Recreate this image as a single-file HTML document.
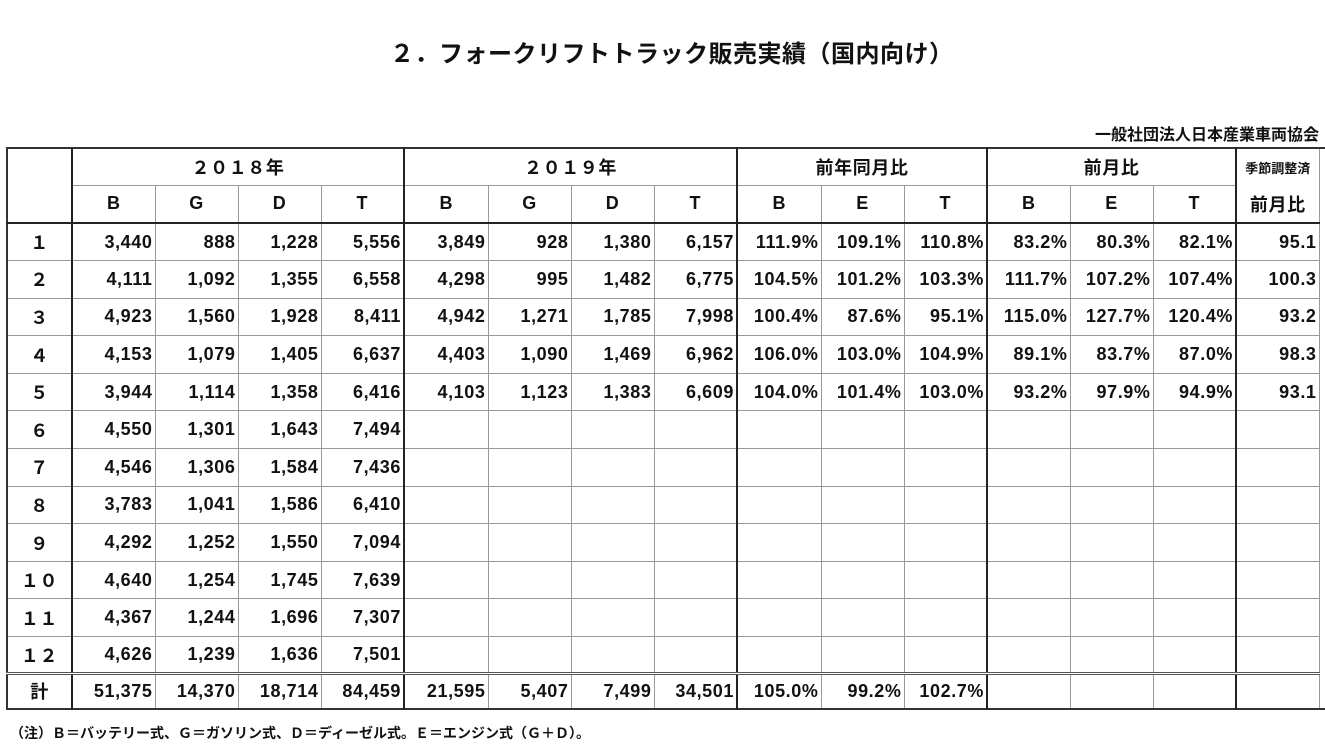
<!DOCTYPE html>
<html><head><meta charset="utf-8">
<style>
body{margin:0;width:1325px;height:750px;background:#fff;position:relative;overflow:hidden;font-family:"Liberation Sans","Noto Sans CJK JP",sans-serif;font-weight:bold;color:#111}
#title{position:absolute;left:390px;top:34px;font-size:24px;letter-spacing:0.5px;white-space:nowrap}
#org{position:absolute;right:6px;top:121px;font-size:16px;white-space:nowrap}
#note{position:absolute;left:10px;top:723px;font-size:14px;white-space:nowrap}
table{position:absolute;left:6px;top:147px;width:1314px;border-collapse:collapse;table-layout:fixed;font-size:18px;letter-spacing:0.6px}
td{border:1px solid #999;padding:0 2px 0 0;text-align:right;white-space:nowrap;overflow:hidden}
td.c{text-align:center;padding:0}
.L{border-left:2px solid #222}
.top td{border-top:2px solid #222}
.tot td{border-top:3px double #555}
.outer{border:2px solid #333}
</style></head><body>
<div id="title">２．フォークリフトトラック販売実績（国内向け）</div>
<div id="org">一般社団法人日本産業車両協会</div>
<table id="t" class="outer">
<colgroup><col style="width:65px"><col style="width:83px"><col style="width:83px"><col style="width:83px"><col style="width:83px"><col style="width:84px"><col style="width:83px"><col style="width:83px"><col style="width:83px"><col style="width:84px"><col style="width:83px"><col style="width:83px"><col style="width:83px"><col style="width:83px"><col style="width:83px"><col style="width:83px"><col style="width:84px"></colgroup>
<tr style="height:37px">
<td class="c" rowspan="2"></td>
<td class="c L" colspan="4">２０１８年</td>
<td class="c L" colspan="4">２０１９年</td>
<td class="c L" colspan="3">前年同月比</td>
<td class="c L" colspan="3">前月比</td>
<td class="c L" style="font-size:13px;letter-spacing:0;border-bottom:none">季節調整済</td>
</tr>
<tr style="height:38px">
<td class="c L">B</td><td class="c">G</td><td class="c">D</td><td class="c">T</td>
<td class="c L">B</td><td class="c">G</td><td class="c">D</td><td class="c">T</td>
<td class="c L">B</td><td class="c">E</td><td class="c">T</td>
<td class="c L">B</td><td class="c">E</td><td class="c">T</td>
<td class="c L" style="border-top:none">前月比</td>
</tr>
</table>
<div id="note">（注）Ｂ＝バッテリー式、Ｇ＝ガソリン式、Ｄ＝ディーゼル式。Ｅ＝エンジン式（Ｇ＋Ｄ）。</div>
<script>
const months=["１","２","３","４","５","６","７","８","９","１０","１１","１２"];
const b18=["3,440","4,111","4,923","4,153","3,944","4,550","4,546","3,783","4,292","4,640","4,367","4,626"];
const g18=["888","1,092","1,560","1,079","1,114","1,301","1,306","1,041","1,252","1,254","1,244","1,239"];
const d18=["1,228","1,355","1,928","1,405","1,358","1,643","1,584","1,586","1,550","1,745","1,696","1,636"];
const t18=["5,556","6,558","8,411","6,637","6,416","7,494","7,436","6,410","7,094","7,639","7,307","7,501"];
const b19=["3,849","4,298","4,942","4,403","4,103"];
const g19=["928","995","1,271","1,090","1,123"];
const d19=["1,380","1,482","1,785","1,469","1,383"];
const t19=["6,157","6,775","7,998","6,962","6,609"];
const yoyB=["111.9%","104.5%","100.4%","106.0%","104.0%"];
const yoyE=["109.1%","101.2%","87.6%","103.0%","101.4%"];
const yoyT=["110.8%","103.3%","95.1%","104.9%","103.0%"];
const momB=["83.2%","111.7%","115.0%","89.1%","93.2%"];
const momE=["80.3%","107.2%","127.7%","83.7%","97.9%"];
const momT=["82.1%","107.4%","120.4%","87.0%","94.9%"];
const sa=["95.1","100.3","93.2","98.3","93.1"];
const totals=["51,375","14,370","18,714","84,459","21,595","5,407","7,499","34,501","105.0%","99.2%","102.7%","","","",""];
const groupStart=[0,4,8,11,14];
const tbl=document.getElementById('t');
function addRow(label,vals,cls,h,name){
  const tr=document.createElement('tr');
  
  
  if(cls)tr.className=cls;
  tr.style.height=h+'px';
  const th=document.createElement('td');
  th.className='c';
  
  
  th.textContent=label;tr.appendChild(th);
  vals.forEach((v,i)=>{
    const td=document.createElement('td');
    if(groupStart.includes(i))td.className='L';
    
    
    td.textContent=v;tr.appendChild(td);
  });
  tbl.appendChild(tr);
}
const cols=[b18,g18,d18,t18,b19,g19,d19,t19,yoyB,yoyE,yoyT,momB,momE,momT,sa];
months.forEach((m,r)=>{
  addRow(m,cols.map(c=>c[r]||""),r===0?'top':'',r===11?37:37.6,'month-row');
});
addRow('計',totals,'tot',35,'total-row');
</script>
</body></html>
